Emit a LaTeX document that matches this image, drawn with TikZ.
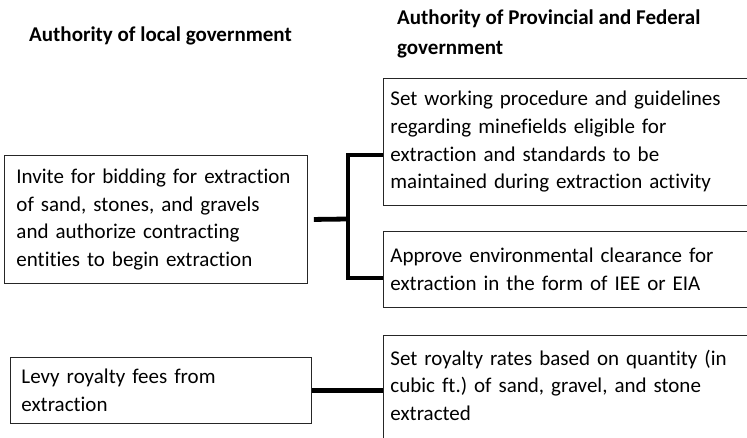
\documentclass[tikz,border=0pt]{standalone}
\usepackage{fontspec}
\setmainfont{Carlito}[Ligatures=NoCommon]
\frenchspacing
\usetikzlibrary{calc}

\tikzset{
  box/.style={draw=black!85, line width=0.9pt, rectangle, anchor=north west,
    align=left, inner ysep=0pt, font=\fontsize{21}{27.7}\selectfont},
  heading/.style={align=left, inner sep=0pt,
    font=\fontsize{21}{30}\selectfont\bfseries},
  link/.style={line width=4.8pt, black},
}

\begin{document}
\begin{tikzpicture}[x=1pt,y=-1pt]
  \useasboundingbox (0,0) rectangle (747,438);

  % column headings
  \node[heading, anchor=west] (hlocal) at (29,36) {Authority of local government};
  \node[heading, anchor=north west] (hprov) at (397,10)
    {Authority of Provincial and Federal\\government};

  % local government duties
  \node[box, inner xsep=12pt, text width=279pt, minimum height=128pt] (invite) at (4,155)
    {Invite for bidding for extraction\\of sand, stones, and gravels\\and authorize contracting\\entities to begin extraction};
  \node[box, inner xsep=11pt, text width=279pt, minimum height=66pt] (levy) at (10,357)
    {Levy royalty fees from\\extraction};

  % provincial and federal duties
  \node[box, inner xsep=7pt, text width=406pt, minimum height=127pt] (rules) at (383,78)
    {Set working procedure and guidelines\\regarding minefields eligible for\\extraction and standards to be\\maintained during extraction activity};
  \node[box, inner xsep=7pt, text width=406pt, minimum height=76pt] (clear) at (383,231)
    {Approve environmental clearance for\\extraction in the form of IEE or EIA};
  \node[box, inner xsep=7pt, text width=406pt, minimum height=127pt] (royal) at (383,335)
    {Set royalty rates based on quantity (in\\cubic ft.) of sand, gravel, and stone\\extracted\\\mbox{}};

  % bracket joining the first duty to the two approvals
  \coordinate (ytop) at (0,155);
  \coordinate (ybot) at (0,278);
  \coordinate (stub) at ($(invite.east)+(6,0)$);
  \coordinate (fork) at (348,219);
  \draw[link] (stub) -- (fork);
  \draw[link] (rules.west |- ytop) -| (fork) |- (clear.west |- ybot);

  % royalty link
  \draw[link] (levy.east) -- (levy.east -| royal.west);
\end{tikzpicture}
\end{document}
